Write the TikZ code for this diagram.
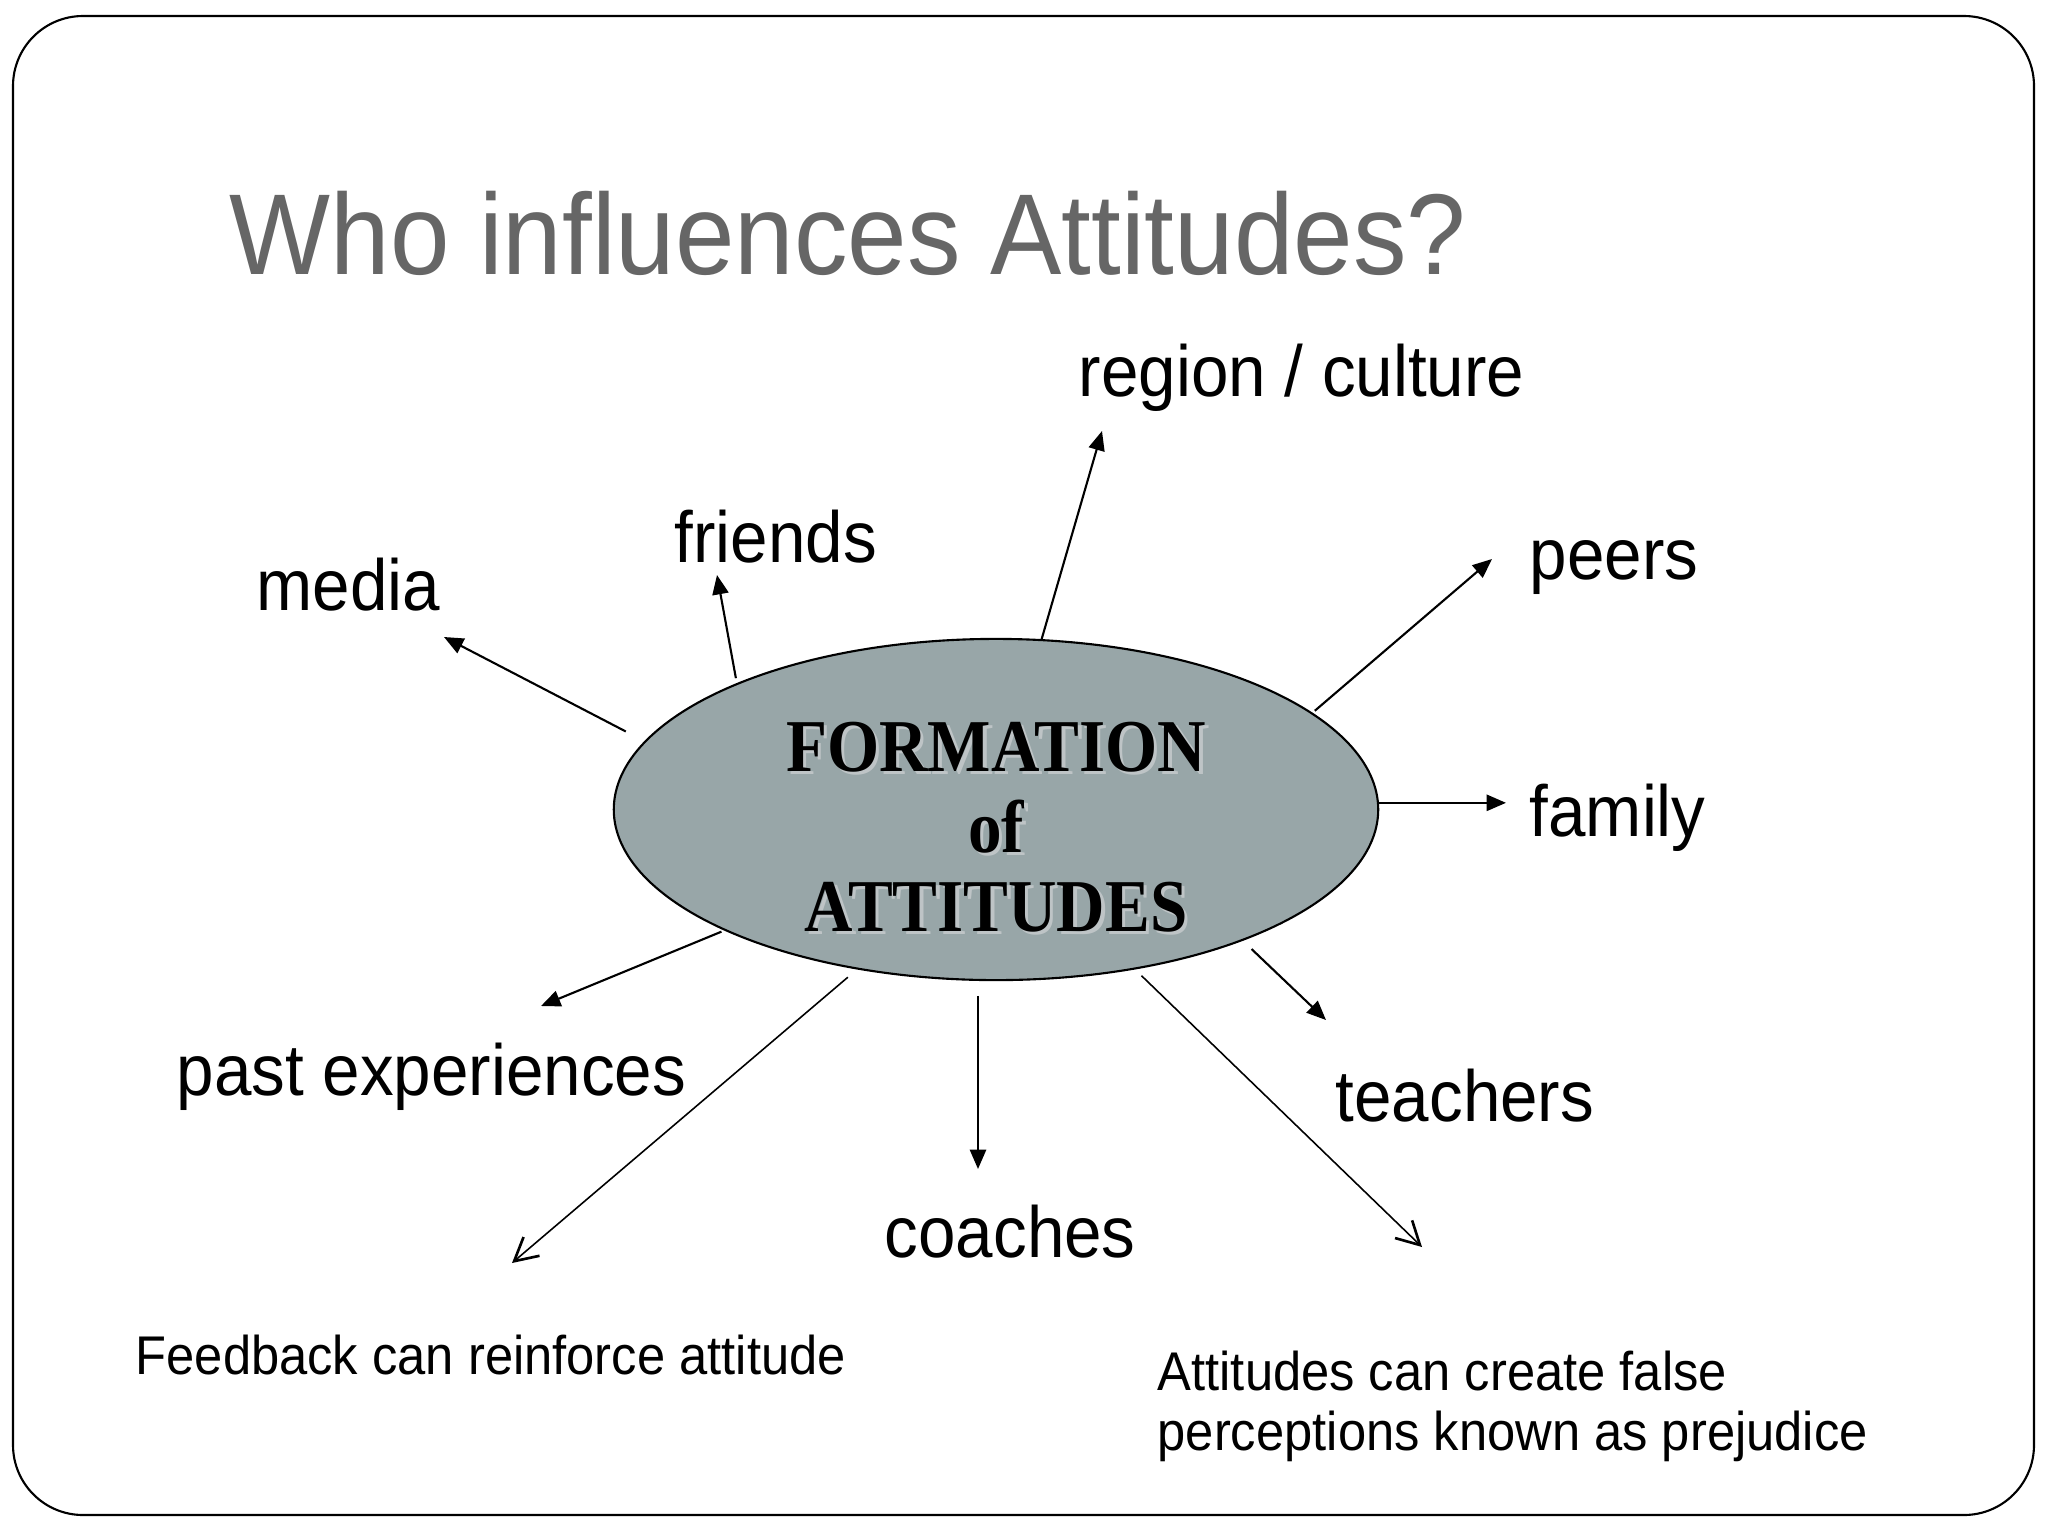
\documentclass[tikz,border=0pt]{standalone}
\usepackage{fontspec}
\setmainfont{Liberation Sans}[FakeStretch=0.93]
\newfontfamily\hubfont{Liberation Serif}[FakeStretch=0.9]
\usetikzlibrary{arrows.meta,shapes.geometric}
\definecolor{titlegray}{RGB}{102,102,102}
\definecolor{hubfill}{RGB}{152,166,168}
\definecolor{shadowgray}{RGB}{190,196,198}
\newcommand{\shadowed}[1]{\makebox[0pt][l]{\hspace{1pt}\raisebox{-1pt}{\color{shadowgray}#1}}#1}

\begin{document}
\begin{tikzpicture}[x=0.01cm, y=-0.01cm,
  lbl/.style={anchor=base west, inner sep=0pt, font=\fontsize{20.6}{24}\selectfont},
  note/.style={anchor=base west, inner sep=0pt, align=left, font=\fontsize{15.5}{16.8}\selectfont},
  hubtext/.style={anchor=base, inner sep=0pt, font=\hubfont\bfseries\fontsize{21.2}{24}\selectfont},
  hub/.style={ellipse, draw, line width=0.6pt, fill=hubfill, minimum width=7.64cm, minimum height=3.41cm, inner sep=0pt},
  arr/.style={line width=0.6pt, -{Triangle[length=5.5pt,width=4.6pt]}},
  openarr/.style={line width=0.45pt, -{Straight Barb[length=6.5pt,width=7pt,line width=0.75pt]}}]
\useasboundingbox (0,0) rectangle (2048,1536);
\draw[line width=0.6pt, rounded corners=0.7cm] (13,16) rectangle (2034,1515);
\node[anchor=base west, inner sep=0pt, text=titlegray, font=\fontsize{32.7}{36}\selectfont] (title) at (229,274) {Who influences Attitudes?};

\node[hub] (core) at (996,809.5) {};
\node[hubtext] (formation) at (996,771) {\shadowed{FORMATION}};
\node[hubtext] (of) at (996,852) {\shadowed{of}};
\node[hubtext] (attitudes) at (996,931) {\shadowed{ATTITUDES}};

\node[lbl] (media) at (256,610) {media};
\node[lbl] (friends) at (674,562) {friends};
\node[lbl] (region) at (1078,396) {region / culture};
\node[lbl] (peers) at (1529,579) {peers};
\node[lbl] (family) at (1529,836) {family};
\node[lbl] (past) at (176,1095) {past experiences};
\node[lbl] (teachers) at (1335,1121) {teachers};
\node[lbl] (coaches) at (884,1257) {coaches};
\node[note] (feedback) at (135,1374) {Feedback can reinforce attitude};
\node[note] (prejudice) at (1157,1450) {Attitudes can create false\\perceptions known as prejudice};

\coordinate (tMedia) at (444,637);
\coordinate (tFriends) at (717,575);
\coordinate (tRegion) at (1102,431);
\coordinate (tPeers) at (1492,559);
\coordinate (tFamily) at (1506,799);
\coordinate (tTeachers) at (1326,1020);
\coordinate (tCoaches) at (974,1169);
\coordinate (tPast) at (541,1006);
\coordinate (tFeed) at (512,1263);
\coordinate (tPrej) at (1422,1247);

\draw[arr, shorten <=0.21cm] (core.169.6) -- (tMedia);
\draw[arr, shorten <=0.05cm] (core.154.1) -- (tFriends);
\draw[arr] (core.75.45) -- (tRegion);
\draw[arr, shorten <=0.03cm] (core.17.05) -- (tPeers);
\draw[arr] (core.1.6) -- (core.1.6 -| tFamily);
\draw[arr, shorten <=0.12cm] (core.-28.16) -- (tTeachers);
\draw[arr, shorten <=0.15cm] (core.-96.8) -- (core.-96.8 |- tCoaches);
\draw[arr, shorten <=0.03cm] (core.-156.4) -- (tPast);
\draw[openarr, shorten <=0.12cm] (core.-131.5) -- (tFeed);
\draw[openarr, shorten <=0.09cm] (core.-49.94) -- (tPrej);
\end{tikzpicture}
\end{document}
